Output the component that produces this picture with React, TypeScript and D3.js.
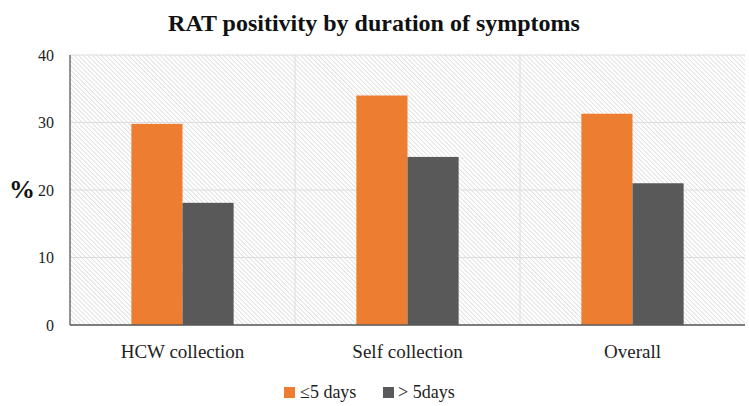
import React from "react";
import * as d3 from "d3";

const categories = ["HCW collection", "Self collection", "Overall"];
const seriesNames = ["≤5 days", "> 5days"];
const le5Days = [29.8, 34.0, 31.3];
const gt5Days = [18.1, 24.9, 21.0];
const yTicks = [0, 10, 20, 30, 40];
const colors = ["#ED7D31", "#595959"];

const W = 749, H = 406;
const m = { left: 70, right: 4, top: 55, bottom: 81 };
const font = "Liberation Serif, DejaVu Serif, Times New Roman, serif";

export default function App() {
  const x = d3.scaleBand<string>().domain(categories).range([m.left, W - m.right]);
  const y = d3.scaleLinear().domain([0, 40]).range([H - m.bottom, m.top]);
  const inner = d3.scaleBand<string>().domain(seriesNames).range([0, x.bandwidth()]).paddingInner(0).paddingOuter(1.2);
  const series = [le5Days, gt5Days];
  return (
    <svg width={W} height={H} fontFamily={font} style={{ position: "absolute", left: 0, top: 0 }}>
      <defs>
        <pattern id="hatch" patternUnits="userSpaceOnUse" width={3.2} height={3.2} patternTransform="rotate(-45)">
          <rect width={3.2} height={3.2} fill="#fff" />
          <line x1={0} y1={0} x2={0} y2={3.2} stroke="#d4d4d4" strokeWidth={1.3} />
        </pattern>
      </defs>
      <rect width={W} height={H} fill="#fff" />
      <text x={374} y={31} textAnchor="middle" fontSize={24} fontWeight="bold" fill="#111" fontFamily={font}>RAT positivity by duration of symptoms</text>
      <rect x={m.left} y={m.top} width={W - m.right - m.left} height={H - m.bottom - m.top} fill="url(#hatch)" />
      {yTicks.map(t => (
        <g key={t}>
          <line x1={m.left} x2={W - m.right} y1={y(t)} y2={y(t)} stroke="#dcdcdc" strokeWidth={1} />
          <text x={54} y={y(t)} dy="0.35em" textAnchor="end" fontSize={16} fill="#222" fontFamily={font}>{t}</text>
        </g>
      ))}
      {categories.slice(1).map(c => (
        <line key={c} x1={x(c)!} x2={x(c)!} y1={m.top} y2={H - m.bottom} stroke="#dcdcdc" />
      ))}
      {categories.map((c, i) => (
        <g key={c}>
          {series.map((s, j) => (
            <rect key={j} x={x(c)! + inner(seriesNames[j])!} width={inner.bandwidth()} y={y(s[i])} height={y(0) - y(s[i])} fill={colors[j]} />
          ))}
          <text x={x(c)! + x.bandwidth() / 2} y={358} textAnchor="middle" fontSize={19} fill="#222" fontFamily={font}>{c}</text>
        </g>
      ))}
      <line x1={m.left} x2={m.left} y1={m.top} y2={H - m.bottom} stroke="#595959" strokeWidth={1.3} />
      <line x1={m.left} x2={W - m.right} y1={H - m.bottom} y2={H - m.bottom} stroke="#595959" strokeWidth={1.3} />
      <text x={22} y={198} textAnchor="middle" fontSize={26} fontWeight="bold" fill="#111" fontFamily={font}>%</text>
      <g>
        <rect x={284} y={387} width={11} height={11} fill={colors[0]} />
        <text x={300} y={398} fontSize={18} fill="#222" fontFamily={font}>{seriesNames[0]}</text>
        <rect x={383} y={387} width={11} height={11} fill={colors[1]} />
        <text x={398} y={398} fontSize={18} fill="#222" fontFamily={font}>{seriesNames[1]}</text>
      </g>
    </svg>
  );
}
